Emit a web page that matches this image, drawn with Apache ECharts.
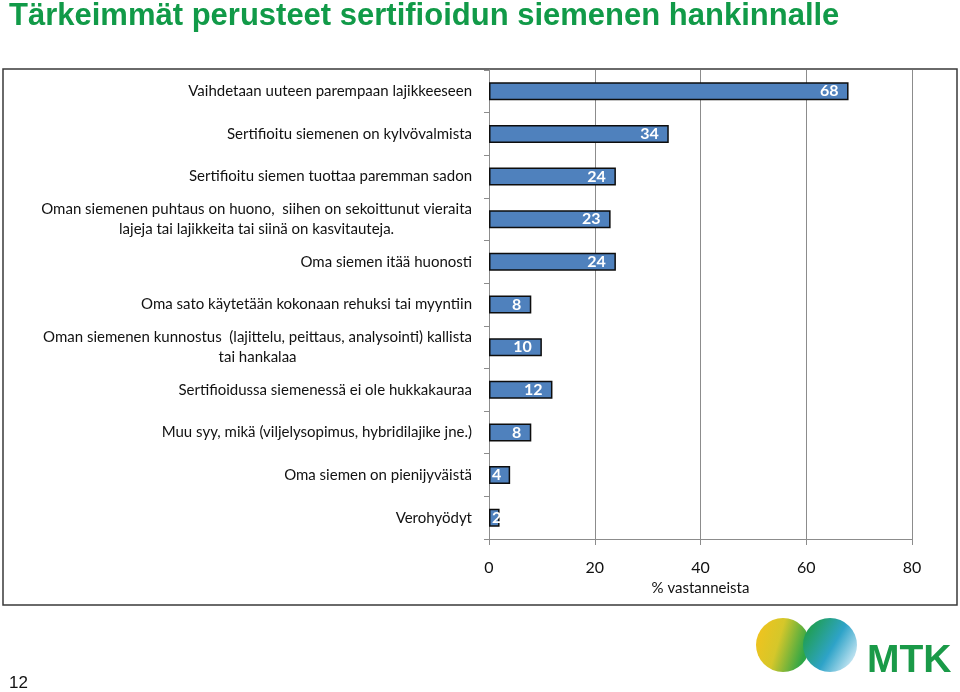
<!DOCTYPE html>
<html>
<head>
<meta charset="utf-8">
<script src="https://cdn.jsdelivr.net/npm/echarts@6/dist/echarts.min.js"></script>
<style>
html,body{margin:0;padding:0;background:#fff;}
#chart{width:960px;height:692px;}
</style>
</head>
<body>
<div id="chart"></div>
<script>
const titleText = 'Tärkeimmät perusteet sertifioidun siemenen hankinnalle';
const categories = [
  'Vaihdetaan uuteen parempaan lajikkeeseen',
  'Sertifioitu siemenen on kylvövalmista',
  'Sertifioitu siemen tuottaa paremman sadon',
  'Oman siemenen puhtaus on huono,  siihen on sekoittunut vieraita\nlajeja tai lajikkeita tai siinä on kasvitauteja.',
  'Oma siemen itää huonosti',
  'Oma sato käytetään kokonaan rehuksi tai myyntiin',
  'Oman siemenen kunnostus  (lajittelu, peittaus, analysointi) kallista\ntai hankalaa',
  'Sertifioidussa siemenessä ei ole hukkakauraa',
  'Muu syy, mikä (viljelysopimus, hybridilajike jne.)',
  'Oma siemen on pienijyväistä',
  'Verohyödyt'
];
const values = [68, 34, 24, 23, 24, 8, 10, 12, 8, 4, 2];
const xTicks = [0, 20, 40, 60, 80];
const axisName = '% vastanneista';
const pageNumber = '12';

const chart = echarts.init(document.getElementById('chart'), null, {renderer: 'canvas'});
const font = 'Lato, "Open Sans", sans-serif';
chart.setOption({
  animation: false,
  backgroundColor: '#fff',
  grid: {left: 489, right: 48, top: 70, bottom: 153, containLabel: false},
  xAxis: {
    type: 'value', min: xTicks[0], max: xTicks[xTicks.length - 1], interval: 20,
    axisLine: {show: true, lineStyle: {color: '#8c8c8c', width: 1}},
    axisTick: {show: true, length: 6, lineStyle: {color: '#8c8c8c'}},
    splitLine: {show: true, lineStyle: {color: '#8c8c8c', width: 1}},
    axisLabel: {color: '#111', fontSize: 16, fontFamily: font, margin: 21},
    name: axisName, nameLocation: 'middle', nameGap: 41,
    nameTextStyle: {color: '#111', fontSize: 15, fontFamily: font}
  },
  yAxis: {
    type: 'category', data: categories, inverse: true,
    axisLine: {show: true, lineStyle: {color: '#8c8c8c', width: 1}},
    axisTick: {show: true, length: 5, lineStyle: {color: '#8c8c8c'}},
    axisLabel: {
      color: '#111', fontSize: 15, fontFamily: font, margin: 17, lineHeight: 20,
      formatter: function (v) {
        return v.split('\n').map(function (l) { return '{c|' + l + '}'; }).join('\n');
      },
      rich: {c: {align: 'center', fontSize: 15, fontFamily: font, color: '#111', lineHeight: 20}}
    }
  },
  series: [{
    type: 'bar',
    data: values.map(function (v) {
      return v < 5 ? {value: v, label: {position: 'insideLeft', distance: 3}} : v;
    }),
    barWidth: 18,
    itemStyle: {color: '#4f81bd', borderColor: '#0d0d0d', borderWidth: 1.5},
    label: {
      show: true, position: 'insideRight', distance: 10,
      color: '#fff', fontWeight: 'bold', fontSize: 16, fontFamily: font
    }
  }],
  graphic: [
    {type: 'text', left: 9, top: 1, style: {text: titleText, fill: '#119a48', font: 'bold 31px "Liberation Sans", Arial, sans-serif'}},
    {type: 'rect', shape: {x: 3, y: 69, width: 954, height: 536}, style: {fill: 'none', stroke: '#3a3a3a', lineWidth: 1.5}, silent: true, z: 0},
    {type: 'text', left: 9, top: 675, style: {text: pageNumber, fill: '#111', font: '17px "Liberation Sans", Arial, sans-serif'}},
    {type: 'circle', shape: {cx: 783, cy: 645, r: 27}, style: {fill: new echarts.graphic.LinearGradient(0, 0, 1, 0.3, [{offset: 0, color: '#f6c21c'}, {offset: 0.5, color: '#d5c72a'}, {offset: 1, color: '#2ea646'}])}},
    {type: 'circle', shape: {cx: 830, cy: 645, r: 27}, style: {fill: new echarts.graphic.LinearGradient(0, 0.2, 1, 0.8, [{offset: 0, color: '#1e9e44'}, {offset: 0.55, color: '#2ea3c8'}, {offset: 1, color: '#d8eef8'}])}},
    {type: 'text', left: 867, top: 642, style: {text: 'MTK', fill: '#1a9a48', font: 'bold 39px "Liberation Sans", Arial, sans-serif'}}
  ]
});
</script>
</body>
</html>
